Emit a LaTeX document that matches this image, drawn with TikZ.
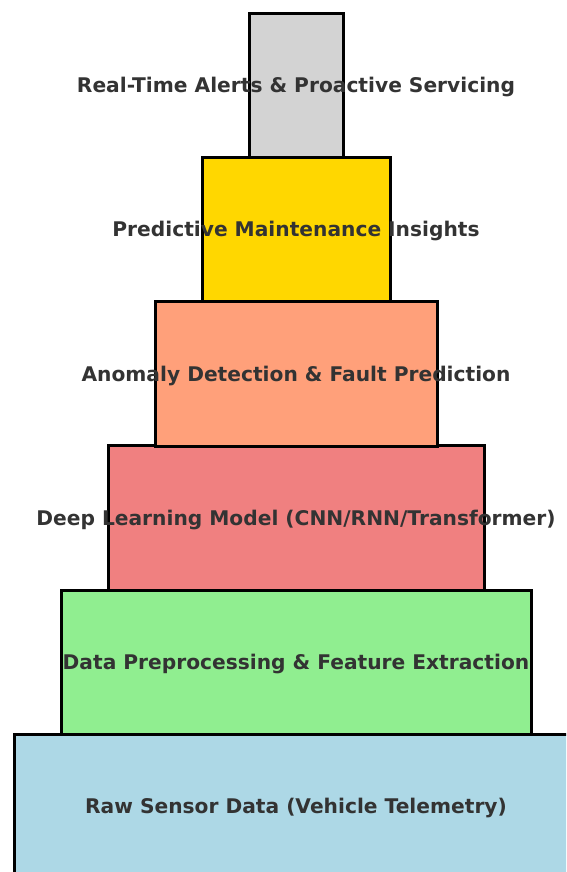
\documentclass[tikz,border=0pt]{standalone}
\usepackage{fontspec}
\setmainfont{DejaVu Sans}
\definecolor{txt}{HTML}{333333}
\definecolor{cgray}{HTML}{D3D3D3}
\definecolor{cgold}{HTML}{FFD700}
\definecolor{csalmon}{HTML}{FFA07A}
\definecolor{ccoral}{HTML}{F08080}
\definecolor{cgreen}{HTML}{90EE90}
\definecolor{cblue}{HTML}{ADD8E6}
\tikzset{
  tier/.style={draw=black, line width=3pt, minimum height=144.3pt, inner sep=0pt, anchor=north},
  lbl/.style={text=txt, font=\bfseries\fontsize{20.2}{24}\selectfont, inner sep=0pt, yshift=-1.8pt}
}
\begin{document}
\begin{tikzpicture}[x=1pt,y=1pt]
\useasboundingbox (0,0) rectangle (566,-872);
\clip (0,0) rectangle (566,-872);
\node[tier, fill=cblue, minimum width=564pt] (t6) at (296,-732.8) {};
\node[tier, fill=cgreen, minimum width=470pt] (t5) at (296,-588.6) {};
\node[tier, fill=ccoral, minimum width=376pt] (t4) at (296,-444.4) {};
\node[tier, fill=csalmon, minimum width=282pt] (t3) at (296,-300.2) {};
\node[tier, fill=cgold, minimum width=188pt] (t2) at (296,-156) {};
\node[tier, fill=cgray, minimum width=94pt] (t1) at (296,-11.8) {};
\node[lbl] (l1) at (t1.center) {Real-Time Alerts \& Proactive Servicing};
\node[lbl] (l2) at (t2.center) {Predictive Maintenance Insights};
\node[lbl] (l3) at (t3.center) {Anomaly Detection \& Fault Prediction};
\node[lbl] (l4) at (t4.center) {Deep Learning Model (CNN/RNN/Transformer)};
\node[lbl] (l5) at (t5.center) {Data Preprocessing \& Feature Extraction};
\node[lbl] (l6) at (t6.center) {Raw Sensor Data (Vehicle Telemetry)};
\end{tikzpicture}
\end{document}
